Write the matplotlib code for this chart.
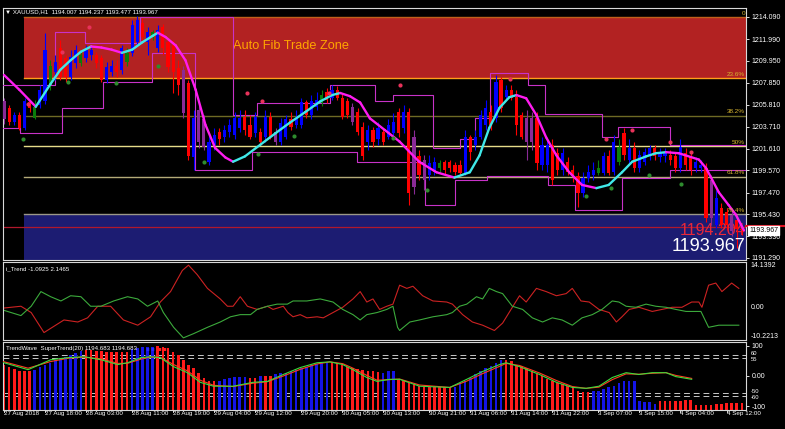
import matplotlib
matplotlib.use('Agg')
import matplotlib.pyplot as plt
import matplotlib.transforms as mtransforms
from matplotlib.collections import LineCollection
import numpy as np

# ---------------- data ----------------
symbol_header = "\u25bc XAUUSD,H1  1194.007 1194.237 1193.477 1193.967"

opens = [1206.1,1205.5,1204.2,1204.8,1203.6,1206.0,1204.5,1205.8,1206.1,1207.7,
         1208.9,1211.2,1210.2,1208.4,1209.7,1209.7,1210.2,1210.5,1210.5,1210.2,
         1208.1,1208.9,1209.5,1209.1,1209.8,1210.7,1211.7,1213.5,1211.7,1212.3,
         1211.2,1213.1,1211.7,1211.4,1209.3,1209.1,1207.8,1200.8,1205.3,1204.4,
         1200.4,1202.0,1203.2,1202.7,1203.2,1202.9,1203.6,1204.6,1203.9,1203.1,
         1203.2,1202.7,1204.6,1203.2,1202.3,1202.7,1204.4,1203.9,1203.9,1206.0,
         1204.8,1205.6,1206.0,1207.0,1206.4,1207.2,1206.4,1206.1,1205.6,1205.1,
         1203.7,1202.3,1203.4,1202.5,1203.2,1202.7,1203.1,1205.1,1203.6,1205.1,
         1202.7,1200.9,1200.6,1199.1,1199.4,1199.8,1200.4,1200.4,1200.1,1200.1,
         1199.3,1202.7,1202.0,1202.7,1203.9,1205.1,1204.5,1208.1,1206.5,1207.2,
         1206.5,1204.8,1204.5,1204.5,1204.5,1200.1,1200.1,1202.0,1201.2,1199.6,
         1200.4,1199.6,1199.0,1197.4,1198.9,1199.1,1199.3,1199.3,1200.9,1199.4,
         1200.4,1203.1,1200.6,1201.7,1199.8,1200.4,1201.0,1201.7,1200.8,1200.9,
         1201.0,1200.9,1199.8,1201.2,1200.9,1199.8,1199.8,1199.8,1198.7,1194.4,
         1196.0,1195.6,1195.4,1194.9,1194.007]
closes = [1204.4,1204.2,1204.8,1203.6,1206.1,1205.5,1205.6,1207.2,1211.0,1209.5,
          1209.8,1208.4,1208.4,1210.3,1211.0,1210.5,1211.0,1211.0,1209.7,1208.1,
          1209.4,1209.5,1208.9,1211.2,1210.7,1213.3,1213.8,1212.2,1212.7,1212.7,
          1212.9,1211.2,1209.4,1208.9,1207.7,1205.0,1200.9,1204.5,1202.3,1201.8,
          1202.3,1202.9,1202.5,1203.4,1203.9,1204.5,1204.5,1203.4,1202.7,1204.6,
          1202.3,1204.6,1202.7,1202.3,1204.1,1204.4,1203.7,1204.5,1206.0,1204.8,
          1206.1,1206.2,1206.7,1206.2,1207.2,1206.4,1204.6,1204.8,1204.2,1203.2,
          1200.9,1203.4,1202.3,1203.6,1202.3,1203.9,1204.2,1203.1,1205.1,1197.4,
          1198.0,1199.1,1198.7,1200.3,1200.4,1200.3,1199.6,1199.8,1199.4,1199.3,
          1202.7,1201.3,1202.7,1204.8,1205.5,1203.9,1207.9,1205.5,1207.2,1206.4,
          1203.9,1202.7,1202.3,1202.3,1200.3,1202.0,1202.0,1198.7,1199.6,1201.2,
          1199.4,1199.0,1197.4,1198.9,1199.4,1199.6,1199.8,1200.9,1199.3,1202.3,
          1201.8,1201.0,1201.7,1199.8,1201.0,1201.3,1201.7,1200.9,1201.3,1201.3,
          1200.6,1199.8,1201.8,1200.1,1199.6,1200.4,1200.1,1195.1,1195.1,1197.0,
          1194.4,1194.4,1193.8,1194.0,1193.967]
highs = [1206.4,1205.8,1205.1,1205.1,1206.4,1206.2,1206.2,1207.7,1212.6,1210.0,
         1210.5,1211.9,1210.5,1211.0,1211.4,1211.0,1211.4,1211.3,1210.8,1210.5,
         1209.8,1210.0,1210.0,1211.4,1211.2,1213.8,1214.2,1214.0,1213.1,1212.9,
         1213.3,1213.4,1212.1,1211.9,1210.0,1209.5,1208.1,1205.3,1205.8,1204.8,
         1202.9,1203.6,1203.6,1203.9,1204.4,1205.1,1205.3,1205.3,1204.8,1205.1,
         1203.6,1205.3,1205.1,1203.6,1204.5,1204.8,1205.1,1205.3,1206.4,1206.2,
         1206.7,1207.0,1207.2,1207.4,1207.7,1207.6,1206.8,1206.4,1206.0,1205.5,
         1204.2,1203.9,1203.7,1204.2,1203.6,1204.4,1205.0,1205.5,1205.8,1205.5,
         1203.4,1201.5,1201.0,1201.0,1200.8,1200.6,1200.6,1200.6,1200.4,1200.6,
         1203.4,1202.9,1203.4,1205.3,1206.2,1205.8,1208.6,1208.4,1207.7,1207.7,
         1207.2,1205.1,1205.3,1205.1,1205.1,1202.7,1202.5,1202.5,1201.7,1201.7,
         1200.8,1200.1,1199.4,1199.4,1200.1,1200.4,1200.6,1201.3,1201.5,1202.9,
         1202.5,1203.6,1202.5,1202.3,1201.5,1201.7,1202.0,1202.0,1201.7,1201.7,
         1201.5,1201.3,1202.5,1201.7,1201.3,1200.8,1200.6,1200.3,1199.1,1197.7,
         1196.5,1196.0,1195.8,1195.4,1194.237]
lows = [1204.0,1203.9,1203.9,1203.4,1203.4,1205.1,1204.4,1205.5,1205.9,1207.2,
        1208.1,1208.1,1207.9,1208.1,1209.3,1209.5,1209.8,1210.0,1209.3,1207.9,
        1207.8,1208.5,1208.4,1208.7,1209.5,1210.4,1211.4,1211.9,1210.5,1211.9,
        1210.8,1210.5,1208.9,1206.9,1206.7,1204.5,1200.6,1199.6,1201.7,1201.5,
        1200.1,1201.5,1202.0,1202.3,1202.7,1202.5,1203.2,1202.9,1202.5,1202.7,
        1202.0,1202.3,1202.5,1202.0,1202.0,1202.5,1203.4,1203.6,1203.6,1204.5,
        1204.4,1205.3,1205.7,1206.0,1206.2,1206.2,1204.4,1204.5,1203.9,1202.9,
        1200.6,1201.5,1201.8,1202.0,1202.0,1202.5,1202.9,1202.7,1203.1,1196.3,
        1197.3,1198.7,1197.7,1198.7,1199.1,1199.4,1199.2,1199.4,1199.1,1199.1,
        1199.1,1200.6,1201.5,1202.5,1203.4,1203.4,1204.2,1205.1,1206.2,1206.2,
        1202.9,1202.5,1200.6,1201.5,1199.6,1199.6,1199.4,1198.2,1199.1,1199.1,
        1199.1,1198.5,1196.1,1197.1,1198.5,1198.7,1199.1,1199.1,1199.1,1199.1,
        1200.1,1200.6,1200.1,1199.4,1199.4,1200.1,1200.6,1200.6,1200.4,1200.4,
        1200.1,1199.4,1199.4,1199.6,1199.1,1199.4,1199.4,1194.7,1194.4,1194.1,
        1194.1,1193.9,1193.4,1192.2,1193.477]
# candle colour class: B blue, R red, G green, P purple
candle_class = ("PRBRBRGBBG" "BRRBBGBBRR" "BBRBGBBRBG" "BRRRRPRBPP" "BBRBBBBRRB"
                "RBRPBBRBBR" "BBGRBRRRPR" "RBRBRBBRBR" "PRPBBGRRRR" "BRBBBRBRBR"
                "RRPPRBBRRB" "RRRBBBGBRB" "GRBRBBBRBB" "RRBRRBBRPB" "RRPRR")

# smooth moving average (bar index, price)
ma_x = [0,3,6.2,9,11,13,15,17,19,21,23,25,27,29,30,31.5,33.5,35.4,37.4,39.3,
        41.2,43.2,44.7,47,50,53,55.8,58.8,61.7,64,65.6,67.5,69.5,71.4,74.3,77.2,81,84.4,87.9,90.9,
        92.8,94.7,96.7,98.6,100,101.9,103.9,105.8,107.8,110.3,112.8,115.6,118,120.6,122.6,125.3,
        127.2,129.2,131.7,135.6,137,139.5,141.4,142.8,144.4]
ma_y = [1208.6,1207.2,1205.6,1207.7,1209.1,1210.0,1210.8,1211.3,1211.2,1211.0,
        1210.7,1211.0,1211.7,1212.3,1212.6,1212.2,1211.4,1210.0,1207.2,1203.9,
        1201.7,1200.8,1200.4,1200.9,1202.0,1203.1,1204.1,1205.1,1206.1,1206.7,
        1206.9,1206.6,1206.0,1204.5,1203.4,1202.3,1200.4,1199.4,1198.9,1199.4,
        1201.0,1203.6,1205.5,1206.5,1206.7,1206.4,1204.8,1202.7,1201.0,1199.4,
        1198.2,1197.9,1198.2,1199.4,1200.4,1200.9,1201.2,1201.3,1201.2,1200.6,
        1199.8,1197.5,1196.3,1195.4,1193.9]

# stepped channel lines (step start bar, level)
chan_up_x = [-0.2, 10, 15.8, 26.5, 44.7, 49.4, 63.6, 72.4, 75.9, 83.7, 89, 91.9, 94.8, 102.2, 105.6,
             116.7, 119.8, 130]
chan_up_y = [1207.7, 1212.7, 1211.6, 1214.1, 1204.8, 1206.0, 1207.7, 1206.1, 1206.7, 1201.7, 1202.5,
             1204.5, 1208.8, 1207.7, 1204.9, 1202.7, 1203.7, 1202.0]
chan_lo_x = [-0.2, 3.1, 11.3, 19.3, 28.9, 37.3, 48.4, 68.9, 82.1, 88, 94.2, 106.1, 111.4, 120.6, 130]
chan_lo_y = [1203.6, 1203.1, 1205.5, 1207.9, 1210.7, 1199.6, 1201.3, 1200.4, 1196.3, 1198.7,
             1199.0, 1198.2, 1195.8, 1198.9, 1199.6]

sell_dot_x = [4.7, 11.3, 16.6, 47.5, 50.4, 63.5, 77.3, 98.8, 117.5, 122.6, 130, 134]
sell_dot_y = [1205.9, 1210.8, 1213.1, 1206.9, 1206.1, 1206.9, 1207.7, 1208.2, 1202.5, 1203.4, 1202.3, 1201.3]
buy_dot_x = [3.7, 12.5, 21.8, 30, 39, 49.5, 56.6, 76, 82.5, 113.6, 118.4, 125.8, 132.1]
buy_dot_y = [1202.5, 1207.9, 1207.8, 1209.5, 1200.4, 1201.1, 1202.8, 1202.6, 1197.7, 1197.2, 1197.9, 1199.1, 1198.3]

# Fibonacci
fib_high = 1214.09
fib_low = 1189.67
fib_start_bar = 3.9
fib_levels = [0.0, 23.6, 38.2, 50.0, 61.8, 76.4]
fib_labels = ["0", "23.6%", "38.2%", "50%", "61.8%", "76.4%"]
fib_colors = ["#c0601a", "#ff9f1a", "#6e6a24", "#e6dc8a", "#b4aa78", "#9c9888"]
marker_price = 1194.204
last_price = 1193.967

price_ticks = [1214.090, 1211.990, 1209.950, 1207.850, 1205.810, 1203.710,
               1201.610, 1199.570, 1197.470, 1195.430, 1193.330, 1191.290]

time_tick_bars = [0, 8, 16, 25, 33, 41, 49, 58, 66, 74, 83, 91, 99, 107, 116, 124, 132, 141]
time_tick_labels = ["27 Aug 2018", "27 Aug 18:00", "28 Aug 03:00", "28 Aug 11:00", "28 Aug 19:00",
                    "29 Aug 04:00", "29 Aug 12:00", "29 Aug 20:00", "30 Aug 05:00", "30 Aug 13:00",
                    "30 Aug 21:00", "31 Aug 06:00", "31 Aug 14:00", "31 Aug 22:00", "3 Sep 07:00",
                    "3 Sep 15:00", "4 Sep 04:00", "4 Sep 12:00"]

# i_Trend oscillator
itr_red_x = [-0.6,3.3,5.3,7.8,11.7,14.4,16.3,18.3,20.8,23.3,26.1,28.6,30.5,32.5,34.8,36,37.7,39.7,42.2,
             43.6,44.7,46.1,47.5,49.4,51.4,52.5,54.5,55.4,56.4,57.8,59.1,61.1,62.3,64.2,66.1,68.1,
             69.5,70.8,72,73.3,74.7,75.9,77.2,78.6,79.8,81.7,83.7,86.4,87.5,89.5,91.4,93.4,95.7,97.3,
             99.2,100.6,101.9,103.9,105.8,107.8,109.7,110.9,112.6,114.2,116.1,118.1,119.5,120.6,122,
             123.9,126.5,128.4,130.4,132.3,134.2,135.6,136.2,137.5,138.9,140.1,142,143.4]
itr_red_y = [-0.33,0.32,-1.65,-7.9,-3.96,-4.6,-3.3,0.32,0.32,-3.96,-5.6,-2.97,1.64,4.9,11.5,13.15,10.2,
             5.9,2.6,0.32,0.32,3.3,0.32,-0.67,0.32,-0.67,0.32,-1.65,-2.97,-2.3,-3.3,-2.97,-3.3,-1.65,
             0.0,2.6,4.9,1.64,2.6,-0.67,0.32,0.98,6.9,5.9,6.57,3.6,1.97,1.64,0.98,-2.3,-4.6,-5.6,
             -7.25,-4.94,0.0,3.6,1.64,5.9,4.9,3.6,4.27,5.9,1.97,1.64,-0.67,-1.65,-4.6,-2.97,-0.67,
             0.0,-1.3,-0.67,0.0,0.0,1.64,1.64,0.0,6.9,7.56,4.9,7.56,5.9]
itr_grn_x = [-0.6,3.3,5.3,7.2,9.1,11.1,13,15,16.9,18.9,21.4,24.1,26.1,28,30,31.1,33.1,35,37,39.7,42.2,
             44.2,46.1,48.1,49.4,51.4,53.3,55.3,56.4,59.1,61.7,64.2,66.1,68.1,69.5,70.8,72.8,74.7,
             75.9,76.8,77.2,79.2,81.1,83.7,86.4,87.5,88.9,90.3,92.2,93.4,94.7,96.1,97.3,99.2,101.2,
             103.1,105.1,107,108.9,110.9,112.8,114.8,116.7,118.7,120,121.4,123.3,125.3,127.2,129.2,
             131.1,133.1,136,137.5,139.5,141.4,143.4]
itr_grn_y = [-0.67,-2.6,0.32,4.9,3.3,1.97,3.6,3.3,0.32,0.32,1.97,3.3,2.6,0.32,1.97,-1.65,-6.26,-9.55,
             -8.23,-6.26,-4.6,-2.97,-2.3,-2.3,-0.67,0.32,0.98,0.98,1.97,1.97,2.6,1.64,-0.67,-2.3,
             -3.96,-2.3,-1.65,-0.67,0.32,-6.26,-7.25,-4.6,-3.96,-2.97,-2.3,-1.65,0.32,0.98,3.3,2.6,
             5.9,4.9,4.27,0.32,-0.67,-3.3,-4.6,-3.3,-3.96,-5.6,-3.3,-2.3,-0.67,1.97,1.64,0.32,0.0,
             0.98,0.32,0.0,-0.67,-1.3,-1.3,-6.26,-5.6,-5.6,-5.6]
itr_top = 14.1392
itr_bottom = -10.2213

# TrendWave histogram (one value per bar) and colour class
wave_hist = [38,31,24,18,15,18,21,31,38,44,54,61,64,71,77,84,87,87,84,84,
             80,80,80,80,80,90,93,97,97,97,100,97,93,80,71,54,38,28,11,-5,
             -18,-18,-18,-11,-5,-3,-3,-3,-5,-5,0,0,0,5,11,11,15,21,28,31,
             38,41,44,46,46,44,38,31,28,24,21,18,15,13,11,15,15,-11,-17,-22,
             -28,-33,-38,-38,-38,-38,-38,-38,-38,-22,-17,-5,5,16,28,32,43,52,52,49,
             38,32,28,16,5,0,-11,-17,-22,-28,-33,-38,-49,-54,-54,-49,-49,-44,-38,-33,
             -22,-17,-17,-17,-82,-87,-87,-93,-82,-82,-82,-82,-82,-80,-80,-97,-97,-97,-97,-93,
             -93,-90,-90,-90,-90]
wave_class = ("RRRRRRBBBB" "BBBBBBRRRR" "RRRRRBBBBB" "RRRRRRRRRR" "RRBBBBBBRR"
              "BRRBBBBBBB" "BBBBRRRRRR" "RRRRBBBRRR" "RRRRRRRRBB" "BBBBBBBBRR"
              "RRRRRRRRRR" "RRRRRBBBBB" "BBBBBBBBRR" "RRRRRRRRRR" "RRRRR")
wave_line_x = [-0.6,4.7,9.1,12.5,15.6,18.9,22.2,24.1,26.7,28.6,30.5,33.1,35.8,38.3,40.9,44.7,48.6,
               51.4,54.5,57.8,61.1,63.6,66.1,68.1,70.8,72.8,75.3,77.2,81.1,87,90.3,93.4,96.7,98,
               100.6,104.5,107.8,110.9,113.6,116.1,118.7,121.4,123.9,126.5,129.2,131.1,134.2]
wave_green = [47,21,54,61,64,54,38,44,61,64,61,31,11,-21,-34,-34,-21,-18,5,28,44,47,38,21,-5,-18,
              -11,-11,-34,-38,-11,15,38,44,31,5,-21,-38,-41,-34,-5,11,5,11,11,-2,-11]
wave_red = [50,26,48,59,63,57,42,42,56,63,62,38,17,-14,-31,-35,-24,-19,0,22,40,47,41,26,2,-14,
            -12,-10,-30,-38,-17,8,32,42,35,10,-15,-35,-41,-37,-12,7,6,9,11,2,-8]
wave_levels = [70, 60, -55, -65]
wave_tick_vals = [100, 0, -100]
wave_tick_labels = ["100", "0.00", "-100"]
wave_level_labels = ["60", "55", "-50", "-60"]

# ---------------- figure ----------------
W, H = 785, 429
fig = plt.figure(figsize=(W / 100, H / 100), dpi=100, facecolor='black')
FONT = 'Liberation Sans'
small = 5.0
label_fs = 4.4

ax = fig.add_axes([3 / W, 1 - 260 / H, 743 / W, 252 / H], facecolor='black')
ax2 = fig.add_axes([3 / W, 1 - 340 / H, 743 / W, 78 / H], facecolor='black')
ax3 = fig.add_axes([3 / W, 1 - 410 / H, 743 / W, 68 / H], facecolor='black')

xlim = (-0.2, 144.8)
for a in (ax, ax2, ax3):
    a.set_xlim(*xlim)
    for s in a.spines.values():
        s.set_color('#d8d8d8')
        s.set_linewidth(0.8)
    a.yaxis.tick_right()
    a.tick_params(axis='y', colors='white', labelsize=small, length=2, width=0.6, pad=2)
    a.tick_params(axis='x', bottom=False, labelbottom=False)

ymin, ymax = 1191.10, 1214.94
ax.set_ylim(ymin, ymax)

n = len(opens)
xs = np.arange(n)
rng = fib_high - fib_low
fib_prices = [fib_high - lv / 100.0 * rng for lv in fib_levels]

# zones
ax.fill_between([fib_start_bar, xlim[1]], fib_prices[1], fib_prices[0], color='#b22222', zorder=1, lw=0)
ax.fill_between([fib_start_bar, xlim[1]], ymin, fib_prices[5], color='#1c1c72', zorder=1, lw=0)
for p, c, lab in zip(fib_prices, fib_colors, fib_labels):
    ax.plot([fib_start_bar, xlim[1]], [p, p], color=c, lw=1.0, zorder=2)
    ax.text(144.6, p + 0.12, lab, color='#d6b430', fontsize=4.6, ha='right', va='bottom',
            family=FONT, zorder=8)
ax.axhline(marker_price, color='#b0182c', lw=0.9, zorder=2)

ax.text(44.6, 1211.3, "Auto Fib Trade Zone", color='#ffa500', fontsize=9.2,
        family='Liberation Sans', va='center', ha='left', zorder=3)
ax.text(144.6, 1193.85, f"{marker_price:.3f}", color='#e8283a', fontsize=11.5,
        family='Liberation Sans', ha='right', va='center', zorder=3)
ax.text(144.6, 1192.4, f"{last_price:.3f}", color='white', fontsize=13,
        family='Liberation Sans', ha='right', va='center', zorder=9)

# channel
ax.step(chan_up_x + [xlim[1]], chan_up_y + [chan_up_y[-1]], where='post', color='#c832c8', lw=0.8, zorder=4)
ax.step(chan_lo_x + [xlim[1]], chan_lo_y + [chan_lo_y[-1]], where='post', color='#c832c8', lw=0.8, zorder=4)

# candles
cmap = {'B': '#0000ff', 'R': '#ff0000', 'G': '#0a7d0a', 'P': '#8a2a96'}
cols = [cmap[c] for c in candle_class]
ax.vlines(xs, lows, highs, colors=cols, lw=0.8, zorder=5)
o = np.array(opens); c = np.array(closes)
bottoms = np.minimum(o, c)
heights = np.maximum(np.abs(c - o), 0.08)
ax.bar(xs, heights, bottom=bottoms, width=0.62, color=cols, linewidth=0, zorder=5)

# moving average coloured by direction
pts = np.column_stack([ma_x, ma_y])
segs = np.stack([pts[:-1], pts[1:]], axis=1)
seg_cols = ['#40e8e8' if ma_y[i + 1] > ma_y[i] else '#ff1cf0' for i in range(len(ma_y) - 1)]
ax.add_collection(LineCollection(segs, colors=seg_cols, linewidths=1.7, zorder=6, capstyle='round'))

# signal dots
ax.scatter(sell_dot_x, sell_dot_y, s=9, color='#e8325a', zorder=7, linewidths=0)
ax.scatter(buy_dot_x, buy_dot_y, s=9, color='#2e8b2e', zorder=7, linewidths=0)

ax.set_yticks(price_ticks)
ax.set_yticklabels([f"{p:.3f}" for p in price_ticks], family=FONT)
blend = mtransforms.blended_transform_factory(ax.transAxes, ax.transData)
ax.plot([1.0, 1.06], [marker_price + 0.15, marker_price + 0.15], transform=blend, color='#e01020',
        lw=1.5, clip_on=False, zorder=9)
ax.text(1.004, last_price - 0.05, f"{last_price:.3f}", transform=blend, color='black', fontsize=5.0,
        va='center', ha='left', family=FONT, zorder=10,
        bbox=dict(boxstyle='square,pad=0.12', fc='white', ec='white'))

fig.text(5 / W, 1 - 12 / H, symbol_header, color='white', fontsize=label_fs,
         family=['Liberation Sans', 'DejaVu Sans'], va='center')

# i_Trend panel
ax2.set_ylim(itr_bottom, itr_top)
ax2.plot(itr_red_x, itr_red_y, color='#cc2222', lw=0.8)
ax2.plot(itr_grn_x, itr_grn_y, color='#3caa3c', lw=0.8)
ax2.set_yticks([])
t2 = mtransforms.blended_transform_factory(ax2.transAxes, ax2.transData)
ax2.text(1.006, itr_top, f"{itr_top:.4f}", transform=t2, color='white', fontsize=small, va='top', family=FONT)
ax2.text(1.006, 0, "0.00", transform=t2, color='white', fontsize=small, va='center', family=FONT)
ax2.text(1.006, itr_bottom, f"{itr_bottom:.4f}", transform=t2, color='white', fontsize=small, va='bottom', family=FONT)
ax2.text(0.004, 0.91, "i_Trend -1.0925 2.1465", transform=ax2.transAxes, color='white',
         fontsize=label_fs, va='center', family=FONT)

# TrendWave panel
wmin, wmax = -113, 113
ax3.set_ylim(wmin, wmax)
wcmap = {'B': '#1414e6', 'R': '#ff1a1a'}
wcols = [wcmap[k] for k in wave_class]
wv = np.array(wave_hist, dtype=float)
ax3.bar(xs, wv - wmin, bottom=wmin, width=0.5, color=wcols, linewidth=0, zorder=2)
for lv in wave_levels:
    ax3.axhline(lv, color='#c8c8c8', lw=0.7, ls=(0, (6, 4)), zorder=1)
ax3.plot(wave_line_x, wave_red, color='#ff3a20', lw=0.8, zorder=3)
ax3.plot(wave_line_x, wave_green, color='#3cdc3c', lw=0.8, zorder=3)
ax3.set_yticks(wave_tick_vals)
ax3.set_yticklabels(wave_tick_labels, family=FONT)
t3 = mtransforms.blended_transform_factory(ax3.transAxes, ax3.transData)
for lv, lab, dy in zip(wave_levels, wave_level_labels, [4, -6, 5, -7]):
    ax3.text(1.006, lv + dy, lab, transform=t3, color='white', fontsize=4.2, va='center', family=FONT)
ax3.text(0.004, 0.9, "TrendWave  SuperTrend(20) 1194.683 1194.683", transform=ax3.transAxes,
         color='white', fontsize=label_fs, va='center', family=FONT, zorder=5)
for xx, cc in zip([0.192, 0.199, 0.208, 0.215], ['#2a2aff', '#2a2aff', '#ff2020', '#ff2020']):
    ax3.text(xx, 0.9, "\u25aa", transform=ax3.transAxes, color=cc, fontsize=4, va='center',
             family='DejaVu Sans', zorder=5)

# time axis
for b, lab in zip(time_tick_bars, time_tick_labels):
    ax3.plot([b, b], [wmin, wmin - 6], color='white', lw=0.6, clip_on=False)
    ax3.text(b, wmin - 13, lab, color='white', fontsize=4.5, ha='left', va='center', family=FONT)

fig.savefig('out.png', dpi=100, facecolor='black')
